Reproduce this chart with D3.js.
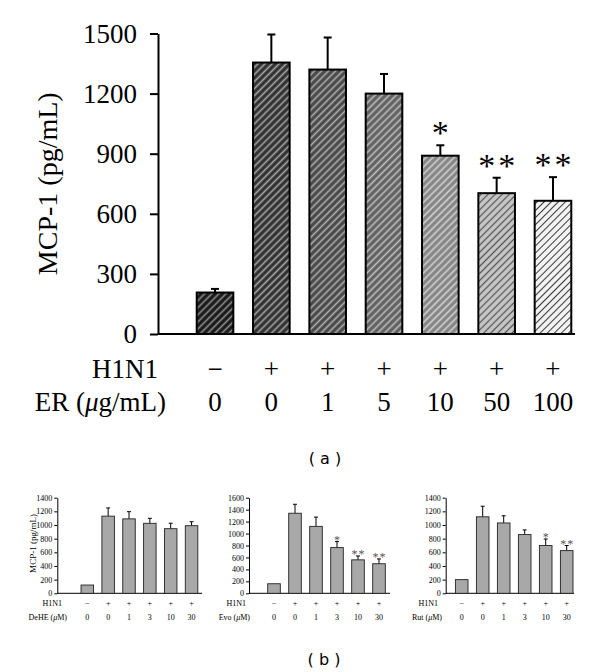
<!DOCTYPE html>
<html>
<head>
<meta charset="utf-8">
<script src="https://cdn.jsdelivr.net/npm/d3@7"></script>
<style>
  body { margin: 0; background: #fff; }
  svg { display: block; }
</style>
</head>
<body>
<div id="wrapper"></div>
<script>
// panel (a): ER dose response
const erH1N1 = ["\u2212", "+", "+", "+", "+", "+", "+"];
const erDoses = ["0", "0", "1", "5", "10", "50", "100"];
const erValues = [207, 1355, 1320, 1200, 890, 703, 665];
const erErrors = [18, 140, 160, 98, 52, 77, 118];
const erSig = ["", "", "", "", "*", "**", "**"];
const erTicks = [0, 300, 600, 900, 1200, 1500];

// panel (b): three compounds
const smallH1N1 = ["\u2212", "+", "+", "+", "+", "+"];
const smallDoses = ["0", "0", "1", "3", "10", "30"];
const deheValues = [121, 1130, 1090, 1025, 946, 990];
const deheErrors = [0, 120, 105, 73, 80, 58];
const deheSig = ["", "", "", "", "", ""];
const evoValues = [160, 1340, 1120, 765, 560, 495];
const evoErrors = [0, 150, 155, 100, 65, 80];
const evoSig = ["", "", "", "*", "**", "**"];
const rutValues = [200, 1120, 1030, 860, 700, 625];
const rutErrors = [0, 155, 105, 68, 95, 75];
const rutSig = ["", "", "", "", "*", "**"];
const ticks1400 = [0, 200, 400, 600, 800, 1000, 1200, 1400];
const ticks1600 = [0, 200, 400, 600, 800, 1000, 1200, 1400, 1600];

const serif = "'Liberation Serif', 'Times New Roman', serif";

function buildChart() {
    const svg = d3.select("#wrapper").append("svg")
        .attr("width", 600)
        .attr("height", 672);

    // hatch fills, dark to light
    const hatch = [
        { bg: "#181818", line: "#909090", w: 1.6 },
        { bg: "#303030", line: "#a8a8a8", w: 1.6 },
        { bg: "#484848", line: "#b0b0b0", w: 1.6 },
        { bg: "#606060", line: "#c0c0c0", w: 1.6 },
        { bg: "#848484", line: "#d4d4d4", w: 1.6 },
        { bg: "#c6c6c6", line: "#505050", w: 1.2 },
        { bg: "#f2f2f2", line: "#383838", w: 1.0 }
    ];
    const defs = svg.append("defs");
    hatch.forEach((h, i) => {
        const p = defs.append("pattern")
            .attr("id", "hatch" + i)
            .attr("patternUnits", "userSpaceOnUse")
            .attr("width", 5)
            .attr("height", 5)
            .attr("patternTransform", "rotate(45)");
        p.append("rect").attr("width", 5).attr("height", 5).attr("fill", h.bg);
        p.append("line")
            .attr("x1", 2.5).attr("y1", 0).attr("x2", 2.5).attr("y2", 5)
            .attr("stroke", h.line)
            .attr("stroke-width", h.w);
    });

    // ---------- panel (a) ----------
    const axisX = 158;
    const y = d3.scaleLinear().domain([0, 1500]).range([334, 33.5]);
    const x = d3.scaleBand()
        .domain(d3.range(erValues.length))
        .range([177, 591])
        .padding(0.35);

    const yAxis = d3.axisLeft(y)
        .tickValues(erTicks)
        .tickFormat(d3.format("d"))
        .tickSize(8)
        .tickSizeOuter(0)
        .tickPadding(13);

    const ga = svg.append("g").attr("transform", `translate(${axisX},0)`).call(yAxis);
    ga.select(".domain").attr("stroke", "#000").attr("stroke-width", 2);
    ga.selectAll(".tick line").attr("stroke", "#000").attr("stroke-width", 2);
    ga.selectAll(".tick text")
        .attr("font-family", serif)
        .attr("font-size", 27)
        .attr("fill", "#000");

    svg.append("line")
        .attr("x1", axisX).attr("x2", 575)
        .attr("y1", y(0)).attr("y2", y(0))
        .attr("stroke", "#000").attr("stroke-width", 2);

    svg.append("text")
        .attr("transform", `translate(57,${(y(0) + y(1500)) / 2}) rotate(-90)`)
        .attr("text-anchor", "middle")
        .attr("font-family", serif)
        .attr("font-size", 28)
        .text("MCP-1 (pg/mL)");

    // error bars behind bars
    const eb = svg.append("g").attr("stroke", "#000").attr("stroke-width", 2);
    erValues.forEach((v, i) => {
        const cx = x(i) + x.bandwidth() / 2;
        eb.append("line").attr("x1", cx).attr("x2", cx)
            .attr("y1", y(v)).attr("y2", y(v + erErrors[i]));
        eb.append("line").attr("x1", cx - 4).attr("x2", cx + 4)
            .attr("y1", y(v + erErrors[i])).attr("y2", y(v + erErrors[i]));
    });

    svg.append("g").selectAll("rect")
        .data(erValues)
        .join("rect")
        .attr("x", (d, i) => x(i))
        .attr("y", d => y(d))
        .attr("width", x.bandwidth())
        .attr("height", d => y(0) - y(d))
        .attr("fill", (d, i) => `url(#hatch${i})`)
        .attr("stroke", "#000")
        .attr("stroke-width", 2);

    erSig.forEach((s, i) => {
        const cx = x(i) + x.bandwidth() / 2;
        const top = y(erValues[i] + erErrors[i]);
        for (let k = 0; k < s.length; k++) {
            svg.append("text")
                .attr("x", cx + (k - (s.length - 1) / 2) * 20)
                .attr("y", top - 1)
                .attr("text-anchor", "middle")
                .attr("font-family", serif)
                .attr("font-size", 34)
                .text("*");
        }
    });

    const rowA = svg.append("g").attr("font-family", serif).attr("font-size", 27);
    rowA.append("text").attr("x", 158).attr("y", 378).attr("text-anchor", "end").text("H1N1");
    const er = rowA.append("text").attr("x", 166).attr("y", 411).attr("text-anchor", "end");
    er.append("tspan").text("ER (");
    er.append("tspan").attr("font-style", "italic").text("\u03bc");
    er.append("tspan").text("g/mL)");
    erH1N1.forEach((s, i) => {
        rowA.append("text").attr("x", x(i) + x.bandwidth() / 2).attr("y", 378)
            .attr("text-anchor", "middle").text(s);
    });
    erDoses.forEach((s, i) => {
        rowA.append("text").attr("x", x(i) + x.bandwidth() / 2).attr("y", 411)
            .attr("text-anchor", "middle").text(s);
    });

    svg.append("text")
        .attr("x", 325).attr("y", 464)
        .attr("text-anchor", "middle")
        .attr("font-family", "'DejaVu Sans', sans-serif")
        .attr("font-size", 16)
        .attr("xml:space", "preserve")
        .text("( a )");

    // ---------- panel (b) ----------
    const panels = [
        { values: deheValues, errors: deheErrors, sig: deheSig, ticks: ticks1400, max: 1400,
          axisX: 57.3, first: 87.3, step: 20.85, xEnd: 202, h1End: 62, doseEnd: 67, drug: "DeHE", yLabel: true },
        { values: evoValues, errors: evoErrors, sig: evoSig, ticks: ticks1600, max: 1600,
          axisX: 249, first: 274, step: 21, xEnd: 390, h1End: 246, doseEnd: 250, drug: "Evo", yLabel: false },
        { values: rutValues, errors: rutErrors, sig: rutSig, ticks: ticks1400, max: 1400,
          axisX: 445.7, first: 461.7, step: 21, xEnd: 574, h1End: 438, doseEnd: 442, drug: "Rut", yLabel: false }
    ];

    panels.forEach(pn => {
        const ys = d3.scaleLinear().domain([0, pn.max]).range([593.3, 497.7]);
        const n = pn.values.length;
        const xs = d3.scaleBand()
            .domain(d3.range(n))
            .range([pn.first - pn.step / 2, pn.first - pn.step / 2 + n * pn.step])
            .paddingInner(0.4)
            .paddingOuter(0.2);
        const cx = i => xs(i) + xs.bandwidth() / 2;

        const g = svg.append("g");
        const ax = g.append("g").attr("transform", `translate(${pn.axisX},0)`)
            .call(d3.axisLeft(ys).tickValues(pn.ticks).tickFormat(d3.format("d"))
                .tickSize(3).tickSizeOuter(0).tickPadding(2));
        ax.select(".domain").attr("stroke", "#000");
        ax.selectAll(".tick line").attr("stroke", "#000");
        ax.selectAll(".tick text").attr("font-family", serif).attr("font-size", 8).attr("fill", "#000");

        g.append("line")
            .attr("x1", pn.axisX).attr("x2", pn.xEnd)
            .attr("y1", ys(0)).attr("y2", ys(0))
            .attr("stroke", "#000");

        pn.values.forEach((v, i) => {
            if (pn.errors[i] > 0) {
                const t = ys(v + pn.errors[i]);
                g.append("line").attr("x1", cx(i)).attr("x2", cx(i))
                    .attr("y1", ys(v)).attr("y2", t).attr("stroke", "#000");
                g.append("line").attr("x1", cx(i) - 2).attr("x2", cx(i) + 2)
                    .attr("y1", t).attr("y2", t).attr("stroke", "#000");
            }
        });

        g.selectAll("rect.bar")
            .data(pn.values)
            .join("rect")
            .attr("class", "bar")
            .attr("x", (d, i) => xs(i))
            .attr("y", d => ys(d))
            .attr("width", xs.bandwidth())
            .attr("height", d => ys(0) - ys(d))
            .attr("fill", "#a8a8a8")
            .attr("stroke", "#222")
            .attr("stroke-width", 0.9);

        pn.sig.forEach((s, i) => {
            if (!s) return;
            const t = ys(pn.values[i] + pn.errors[i]);
            for (let k = 0; k < s.length; k++) {
                g.append("text")
                    .attr("x", cx(i) + (k - (s.length - 1) / 2) * 7)
                    .attr("y", t + 2)
                    .attr("text-anchor", "middle")
                    .attr("font-family", serif)
                    .attr("font-size", 12)
                    .attr("fill", "#555")
                    .text("*");
            }
        });

        if (pn.yLabel) {
            g.append("text")
                .attr("transform", `translate(36,${(ys(0) + ys(pn.max)) / 2 - 2}) rotate(-90)`)
                .attr("text-anchor", "middle")
                .attr("font-family", serif)
                .attr("font-size", 9)
                .text("MCP-1 (pg/mL)");
        }

        const rows = g.append("g").attr("font-family", serif).attr("font-size", 8);
        rows.append("text").attr("x", pn.h1End).attr("y", 606).attr("text-anchor", "end").text("H1N1");
        const dl = rows.append("text").attr("x", pn.doseEnd).attr("y", 620).attr("text-anchor", "end");
        dl.append("tspan").text(pn.drug + " (");
        dl.append("tspan").attr("font-style", "italic").text("\u03bc");
        dl.append("tspan").text("M)");
        smallH1N1.forEach((s, i) => {
            rows.append("text").attr("x", cx(i)).attr("y", 606).attr("text-anchor", "middle").text(s);
        });
        smallDoses.forEach((s, i) => {
            rows.append("text").attr("x", cx(i)).attr("y", 620).attr("text-anchor", "middle").text(s);
        });
    });

    svg.append("text")
        .attr("x", 324).attr("y", 665)
        .attr("text-anchor", "middle")
        .attr("font-family", "'DejaVu Sans', sans-serif")
        .attr("font-size", 16)
        .attr("xml:space", "preserve")
        .text("( b )");
}

buildChart();
</script>
</body>
</html>
